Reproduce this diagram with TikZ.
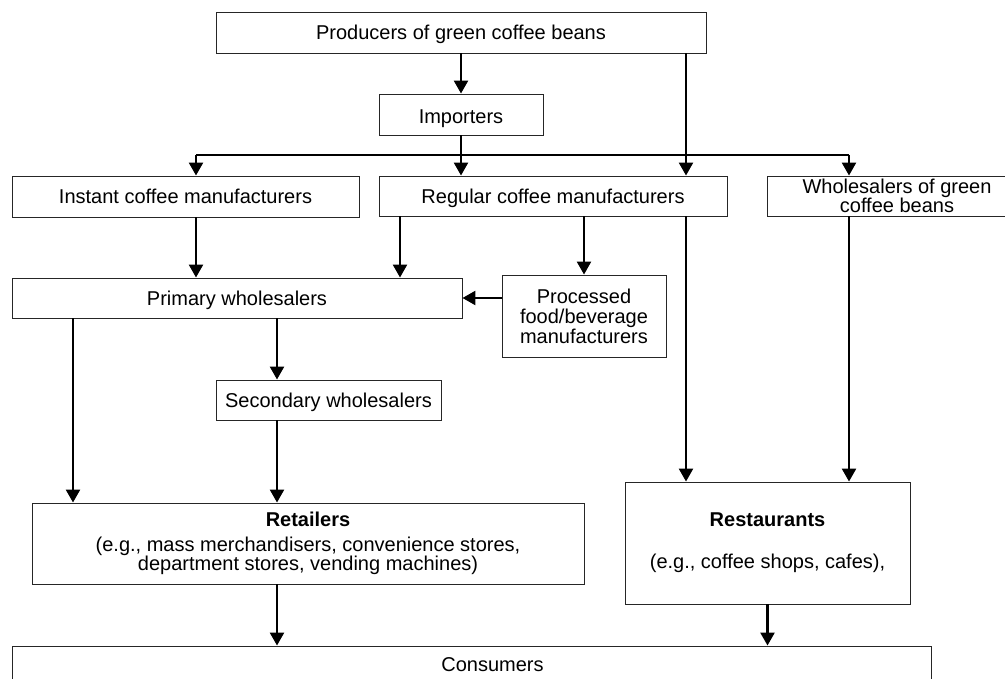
\documentclass[tikz,border=0pt]{standalone}
\usepackage{fontspec}
\setmainfont{Liberation Sans}
\usetikzlibrary{arrows.meta,calc}
\begin{document}
\begin{tikzpicture}[x=1pt,y=-1pt,
  box/.style={draw=black!85,line width=0.9pt,inner sep=0pt,align=center,
    font=\fontsize{20pt}{19pt}\selectfont},
  oneline/.style={box,text depth=0pt},
  arr/.style={line width=2.5pt,-{Triangle[length=13pt,width=14pt]}},
  thinline/.style={line width=1.3pt}]
\useasboundingbox (0,0) rectangle (1005,679);
% boxes
\node[oneline,minimum width=490pt,minimum height=41pt] (prod) at (461,32.5) {Producers of green coffee beans};
\node[oneline,minimum width=164pt,minimum height=41pt,text height=18pt] (imp) at (461,114.5) {Importers};
\node[oneline,minimum width=347pt,minimum height=41pt] (inst) at (185.5,196.5) {Instant coffee manufacturers};
\node[oneline,minimum width=348pt,minimum height=40pt] (reg) at (553,196) {Regular coffee manufacturers};
\node[box,minimum width=260pt,minimum height=40pt,font=\fontsize{20pt}{18pt}\selectfont] (whg) at (897,196) {Wholesalers of green\\coffee beans};
\node[oneline,minimum width=450pt,minimum height=40pt] (prim) at (237,298) {Primary wholesalers};
\node[box,minimum width=164pt,minimum height=82pt,font=\fontsize{20pt}{20pt}\selectfont] (proc) at (584,316) {Processed\\food/beverage\\manufacturers};
\node[oneline,minimum width=225pt,minimum height=40pt] (sec) at (328.5,400) {Secondary wholesalers};
\node[box,minimum width=552pt,minimum height=81pt,font=\fontsize{20pt}{17.5pt}\selectfont] (ret) at (308,543.5) {\textbf{Retailers}\\[7pt](e.g., mass merchandisers, convenience stores,\\department stores, vending machines)};
\node[box,minimum width=285pt,minimum height=122pt] (rest) at (767.5,543) {\textbf{Restaurants}\\[23pt](e.g., coffee shops, cafes),};
\node[oneline,minimum width=919pt,minimum height=38pt] (cons) at (471.5,665) {\hspace*{42pt}Consumers};
% helper x positions
\coordinate (x73) at (73,0);
\coordinate (x196) at (196,0);
\coordinate (x277) at (277,0);
\coordinate (x400) at (400,0);
\coordinate (x686) at (686,0);
\coordinate (x849) at (849,0);
\coordinate (hL) at (196,155);
\coordinate (hR) at (849,155);
% connectors
\draw[arr] (prod.south) -- (imp.north);
\draw[arr] (imp.south) -- (imp.south |- reg.north);
\draw[thinline] (hL) -- (hR);
\draw[arr] (hL) -- (hL |- inst.north);
\draw[arr] (hR) -- (hR |- whg.north);
\draw[arr] (prod.south -| x686) -- (reg.north -| x686);
\draw[arr] (inst.south -| x196) -- (prim.north -| x196);
\draw[arr] (reg.south -| x400) -- (prim.north -| x400);
\draw[arr] (reg.south -| proc.north) -- (proc.north);
\draw[arr] (proc.west |- prim.east) -- (prim.east);
\draw[arr] (prim.south -| x73) -- (ret.north -| x73);
\draw[arr] (prim.south -| x277) -- (sec.north -| x277);
\draw[arr] (sec.south -| x277) -- (ret.north -| x277);
\draw[arr] (reg.south -| x686) -- (rest.north -| x686);
\draw[arr] (whg.south -| x849) -- (rest.north -| x849);
\draw[arr] (ret.south -| x277) -- (cons.north -| x277);
\draw[arr] (rest.south) -- (rest.south |- cons.north);
\end{tikzpicture}
\end{document}
